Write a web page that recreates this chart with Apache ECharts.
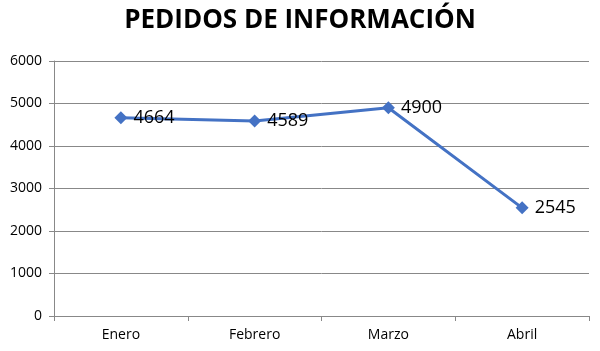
<!DOCTYPE html>
<html>
<head>
<meta charset="utf-8">
<script src="https://cdn.jsdelivr.net/npm/echarts@6/dist/echarts.min.js"></script>
<style>
  html, body { margin: 0; padding: 0; background: #fff; }
  #chart { width: 600px; height: 351px; }
</style>
</head>
<body>
<div id="chart"></div>
<script>
var meses = ['Enero', 'Febrero', 'Marzo', 'Abril'];
var pedidos = [4664, 4589, 4900, 2545];

var chart = echarts.init(document.getElementById('chart'));
var option = {
  animation: false,
  title: {
    text: 'PEDIDOS DE INFORMACIÓN',
    left: 'center',
    top: 3,
    textStyle: { fontFamily: 'Open Sans', fontWeight: 'bold', fontSize: 26, color: '#000' }
  },
  grid: { left: 54, right: 11, top: 61, bottom: 35, containLabel: false },
  xAxis: {
    type: 'category',
    data: meses,
    boundaryGap: true,
    axisLine: { lineStyle: { color: '#888', width: 1 } },
    axisTick: { show: true, length: 5, lineStyle: { color: '#888' } },
    axisLabel: { color: '#000', fontFamily: 'Open Sans', fontSize: 14, margin: 12 }
  },
  yAxis: {
    type: 'value',
    min: 0,
    max: 6000,
    interval: 1000,
    axisLine: { show: true, lineStyle: { color: '#888', width: 1 } },
    axisTick: { show: true, length: 5, inside: false, lineStyle: { color: '#888' } },
    axisLabel: {
      color: '#000', fontFamily: 'Open Sans', fontSize: 14, margin: 12,
      formatter: function (v) { return String(v); }
    },
    splitLine: { lineStyle: { color: '#888', width: 1 } }
  },
  series: [{
    type: 'line',
    data: pedidos,
    symbol: 'diamond',
    symbolSize: 13,
    lineStyle: { color: '#4472C4', width: 3 },
    itemStyle: { color: '#4472C4' },
    label: {
      show: true,
      position: 'right',
      distance: 6,
      color: '#000',
      fontFamily: 'Open Sans',
      fontSize: 18
    }
  }]
};
chart.setOption(option);
</script>
</body>
</html>
